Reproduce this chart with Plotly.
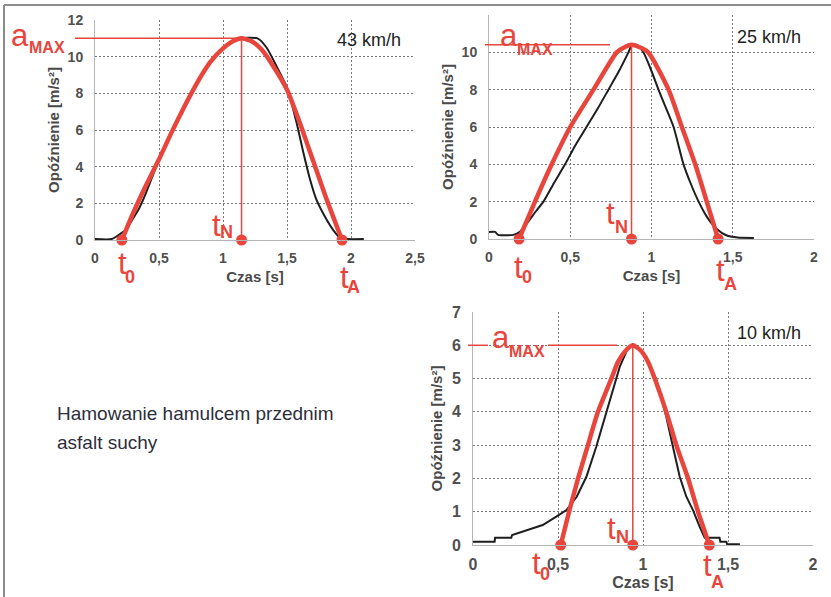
import plotly.graph_objects as go

W, H = 831, 597
RED = "#e8453c"
BLACK = "#1e1e1e"
FONT = "Liberation Sans, Arial, sans-serif"

# ---------------- data ----------------
speed_labels = ["43 km/h", "25 km/h", "10 km/h"]

# 43 km/h
t_black_43 = [0, 0.13, 0.17, 0.20, 0.24, 0.30, 0.35, 0.40, 0.45, 0.50, 0.60, 0.70, 0.80, 0.90, 1.00,
              1.07, 1.13, 1.27, 1.34, 1.42, 1.50, 1.575, 1.63, 1.68, 1.73, 1.81, 1.86, 1.91, 1.97, 2.10]
a_black_43 = [0.05, 0.05, 0.2, 0.35, 0.55, 1.2, 1.8, 2.6, 3.5, 4.4, 5.9, 7.4, 8.6, 9.7, 10.45,
              10.8, 11.0, 11.0, 10.5, 9.45, 8.3, 6.4, 4.7, 3.3, 2.2, 1.1, 0.55, 0.15, 0.05, 0.05]
t_red_43 = [0.21, 0.30, 0.40, 0.50, 0.60, 0.70, 0.80, 0.90, 1.00, 1.08, 1.145, 1.22, 1.30, 1.40,
            1.50, 1.60, 1.70, 1.80, 1.93]
a_red_43 = [0, 1.5, 3.0, 4.4, 5.9, 7.3, 8.6, 9.7, 10.45, 10.85, 11.0, 10.85, 10.4, 9.4,
            8.2, 6.4, 4.4, 2.4, 0]

# 25 km/h
t_black_25 = [0, 0.037, 0.057, 0.15, 0.19, 0.23, 0.29, 0.335, 0.40, 0.468, 0.53, 0.60, 0.67, 0.735,
              0.80, 0.858, 0.88, 0.91, 0.95, 1.0, 1.043, 1.09, 1.136, 1.197, 1.24, 1.29, 1.34, 1.40,
              1.46, 1.53, 1.63]
a_black_25 = [0.38, 0.38, 0.22, 0.22, 0.38, 0.8, 1.5, 2.0, 3.0, 4.0, 5.0, 6.0, 7.0, 8.0,
              9.0, 10.0, 10.4, 10.4, 10.0, 9.0, 8.0, 7.0, 6.0, 4.0, 3.0, 2.0, 1.2, 0.55,
              0.2, 0.08, 0.06]
t_red_25 = [0.185, 0.283, 0.386, 0.50, 0.643, 0.786, 0.84, 0.877, 0.92, 0.98, 1.105, 1.187,
            1.269, 1.34, 1.41]
a_red_25 = [0, 2, 4, 6, 8, 10, 10.3, 10.4, 10.3, 10, 8, 6, 4, 2, 0]

# 10 km/h
t_black_10 = [0, 0.127, 0.13, 0.225, 0.23, 0.30, 0.35, 0.41, 0.49, 0.55, 0.61, 0.667, 0.725, 0.80,
              0.863, 0.91, 0.94, 0.98, 1.02, 1.08, 1.137, 1.176, 1.216, 1.255, 1.294, 1.333,
              1.363, 1.45, 1.455, 1.49, 1.495, 1.57]
a_black_10 = [0.1, 0.1, 0.22, 0.22, 0.3, 0.42, 0.5, 0.6, 0.85, 1.05, 1.45, 2.05, 2.95, 4.25,
              5.35, 5.9, 6.03, 5.9, 5.65, 4.95, 3.85, 2.95, 2.05, 1.45, 1.05, 0.55,
              0.22, 0.22, 0.1, 0.1, 0.02, 0.02]
t_red_10 = [0.516, 0.565, 0.618, 0.676, 0.735, 0.814, 0.853, 0.90, 0.94, 0.985, 1.03, 1.069,
            1.137, 1.196, 1.265, 1.324, 1.39]
a_red_10 = [0, 1, 2, 3, 4, 5, 5.5, 5.85, 6.0, 5.85, 5.5, 5.0, 4, 3, 2, 1, 0]

t0_vals = [0.21, 0.185, 0.516]
tN_vals = [1.145, 0.877, 0.94]
tA_vals = [1.93, 1.41, 1.39]
amax_vals = [11.0, 10.4, 6.0]

x_ticks = [[0, 0.5, 1, 1.5, 2, 2.5], [0, 0.5, 1, 1.5, 2], [0, 0.5, 1, 1.5, 2]]
y_ticks = [[0, 2, 4, 6, 8, 10, 12], [0, 2, 4, 6, 8, 10, 12], [0, 1, 2, 3, 4, 5, 6, 7]]
y_ticktext = [["0", "2", "4", "6", "8", "10", "12"], ["0", "2", "4", "6", "8", "10", ""],
              ["0", "1", "2", "3", "4", "5", "6", "7"]]

x_title = "Czas [s]"
y_title = "Opóźnienie [m/s²]"
note_lines = ["Hamowanie hamulcem przednim", "asfalt suchy"]

blacks = [(t_black_43, a_black_43), (t_black_25, a_black_25), (t_black_10, a_black_10)]
reds = [(t_red_43, a_red_43), (t_red_25, a_red_25), (t_red_10, a_red_10)]


def px(x):
    return x / W


def py(y):
    return 1 - y / H


# ---------------- layout geometry (pixels) ----------------
panels = [
    dict(xd=(95, 415), yd=(20, 240), tick=14, xttl=15, yttl=15, xst=6, yst=4, spline=True),
    dict(xd=(489, 814), yd=(15, 239), tick=14, xttl=15, yttl=15, xst=6, yst=4, spline=True),
    dict(xd=(473, 813), yd=(312, 545), tick=16, xttl=16, yttl=15, xst=4, yst=5, spline=False),
]

fig = go.Figure()
layout = dict(
    width=W, height=H, margin=dict(l=0, r=0, t=0, b=0),
    paper_bgcolor="white", plot_bgcolor="white", template="none",
    showlegend=False, separators=", ", font=dict(family=FONT),
)

shapes = []
annotations = []

for i, p in enumerate(panels):
    xa = "x" if i == 0 else f"x{i+1}"
    ya = "y" if i == 0 else f"y{i+1}"
    xk = "xaxis" if i == 0 else f"xaxis{i+1}"
    yk = "yaxis" if i == 0 else f"yaxis{i+1}"
    xr = [x_ticks[i][0], x_ticks[i][-1]]
    yr = [y_ticks[i][0], y_ticks[i][-1]]
    common = dict(
        showgrid=True, gridcolor="#7a7a7a", griddash="2px,2px", gridwidth=1,
        showline=True, linecolor="#b5b5b5", linewidth=1, zeroline=False,
        ticks="", tickfont=dict(family=FONT, size=p["tick"], color="#505050", weight="bold"),
        fixedrange=True,
    )
    layout[xk] = dict(
        common, domain=[px(p["xd"][0]), px(p["xd"][1])], range=xr, anchor=ya,
        tickvals=x_ticks[i], ticklabelstandoff=5,
        title=dict(text=x_title, standoff=p["xst"],
                   font=dict(family=FONT, size=p["xttl"], color="#4a4a4a", weight="bold")),
    )
    layout[yk] = dict(
        common, domain=[py(p["yd"][1]), py(p["yd"][0])], range=yr, anchor=xa,
        tickvals=y_ticks[i], ticktext=y_ticktext[i], ticklabelstandoff=8,
        title=dict(text=y_title, standoff=p["yst"],
                   font=dict(family=FONT, size=p["yttl"], color="#4a4a4a", weight="bold")),
    )

    tb, ab = blacks[i]
    bl = dict(color=BLACK, width=2)
    if p["spline"]:
        bl.update(shape="spline", smoothing=0.6)
    fig.add_trace(go.Scatter(x=tb, y=ab, xaxis=xa, yaxis=ya, mode="lines",
                             line=bl, hoverinfo="skip"))
    tr, ar = reds[i]
    fig.add_trace(go.Scatter(x=tr, y=ar, xaxis=xa, yaxis=ya, mode="lines",
                             line=dict(color=RED, width=4.5, shape="spline", smoothing=0.6),
                             hoverinfo="skip"))
    # vertical t_N line
    shapes.append(dict(type="line", xref=xa, yref=ya, x0=tN_vals[i], x1=tN_vals[i],
                       y0=0, y1=amax_vals[i], line=dict(color=RED, width=1.5), layer="above"))
    fig.add_trace(go.Scatter(x=[t0_vals[i], tN_vals[i], tA_vals[i]], y=[0, 0, 0],
                             xaxis=xa, yaxis=ya, mode="markers", cliponaxis=False,
                             marker=dict(color=RED, size=11), hoverinfo="skip"))

    # speed label
    sl_pos = [(403, 40), (803, 37), (803, 333)][i]
    annotations.append(dict(text=speed_labels[i], xref="paper", yref="paper",
                            x=px(sl_pos[0]), y=py(sl_pos[1]), xanchor="right", yanchor="middle",
                            showarrow=False, font=dict(family=FONT, size=18, color="#222222")))


def dom_x(i, t):
    p = panels[i]
    return px(p["xd"][0] + (t - x_ticks[i][0]) / (x_ticks[i][-1] - x_ticks[i][0]) * (p["xd"][1] - p["xd"][0]))


# a_MAX horizontal lines (pixel extents, data y)
amax_segments = [
    [(75, None)],
    [(485, 610)],
    [(468, 488), (548, 617)],
]
for i, segs in enumerate(amax_segments):
    ya = "y" if i == 0 else f"y{i+1}"
    for x0, x1 in segs:
        xx1 = dom_x(i, tN_vals[i]) if x1 is None else px(x1)
        shapes.append(dict(type="line", xref="paper", yref=ya, x0=px(x0), x1=xx1,
                           y0=amax_vals[i], y1=amax_vals[i],
                           line=dict(color=RED, width=1.5), layer="above"))


def label(text, xref, x, baseline, size, bold, xshift=0):
    annotations.append(dict(
        text=text, xref=xref, yref="paper", x=x, y=py(baseline - 0.32 * size),
        xanchor="center", yanchor="middle", xshift=xshift, showarrow=False,
        font=dict(family=FONT, size=size, color=RED, weight="bold" if bold else "normal"),
    ))


BIG = 31
SUB = 18
# (t-label: xshift_t, base_t, xshift_sub, base_sub)
t_layout = [
    {"0": (1, 273, 8, 283), "N": (-25, 235, -15, 238), "A": (2, 287, 11, 293)},
    {"0": (-1, 277, 8, 283), "N": (-21, 223, -10, 233), "A": (2, 280, 12, 290)},
    {"0": (-24, 573, -16, 580), "N": (-21, 538, -10, 543), "A": (-2, 575, 8, 588)},
]
a_layout = [(20, 45, 47, 53), (509, 45, 535, 55), (501, 347, 527, 357)]

for i in range(3):
    xa = "x" if i == 0 else f"x{i+1}"
    for key, tv in zip(["0", "N", "A"], [t0_vals[i], tN_vals[i], tA_vals[i]]):
        xs, bt, xs2, bs = t_layout[i][key]
        label("t", xa, tv, bt, BIG, False, xs)
        label(key, xa, tv, bs, SUB, True, xs2)
    ax_, ab_, mx_, mb_ = a_layout[i]
    label("a", "paper", px(ax_), ab_, BIG, False)
    label("MAX", "paper", px(mx_), mb_, 16, True)

# note text
for j, (line_txt, yc) in enumerate(zip(note_lines, [413, 442])):
    annotations.append(dict(text=line_txt, xref="paper", yref="paper", x=px(55), y=py(yc),
                            xanchor="left", yanchor="middle", showarrow=False,
                            font=dict(family=FONT, size=19, color="#2e2e3c")))

# outer frame
shapes.append(dict(type="line", xref="paper", yref="paper", x0=px(4), x1=1, y0=py(5), y1=py(5),
                   line=dict(color="#8c8c8c", width=2)))
shapes.append(dict(type="line", xref="paper", yref="paper", x0=px(4), x1=px(4), y0=0, y1=py(5),
                   line=dict(color="#8c8c8c", width=2)))

layout["shapes"] = shapes
layout["annotations"] = annotations
fig.update_layout(**layout)
fig.write_html("out.html", config={"displayModeBar": False, "staticPlot": True},
               post_script="document.body.style.margin='0px';document.body.style.overflow='hidden';")
